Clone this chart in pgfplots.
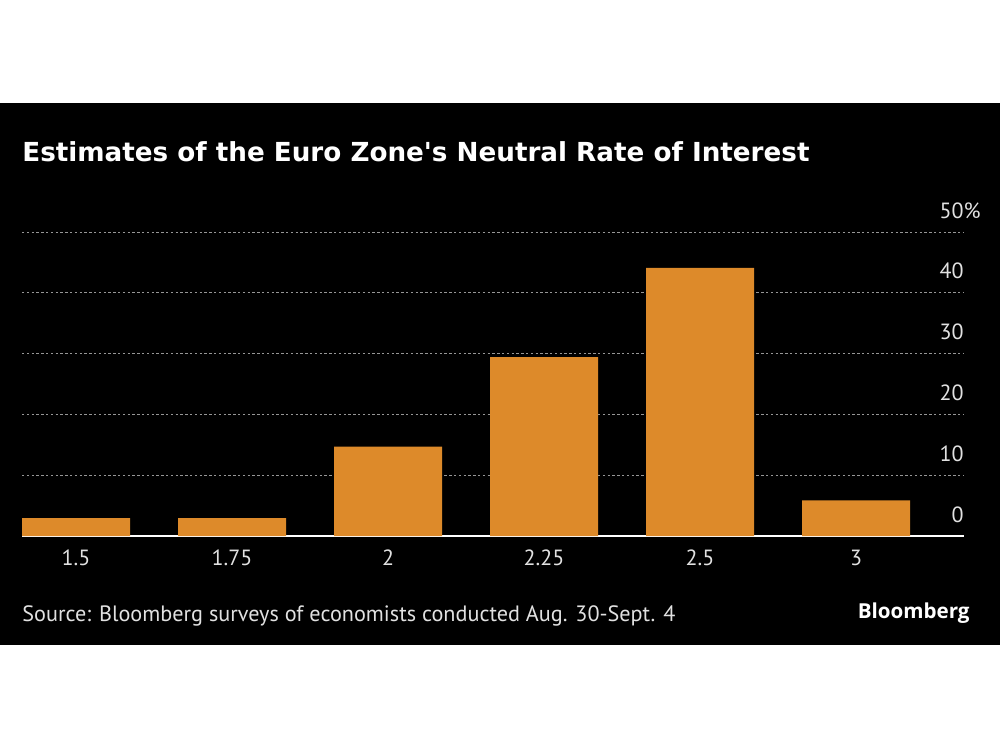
\documentclass[border=0pt]{standalone}
\usepackage{fontspec}
\setmainfont{PT Sans}
\newfontfamily\titlefont{DejaVu Sans}
\newfontfamily\logofont{Open Sans}
\usepackage{pgfplots}
\pgfplotsset{compat=1.18}
\definecolor{barorange}{RGB}{221,138,42}
\definecolor{ticktext}{RGB}{225,225,225}
\definecolor{gridgray}{RGB}{150,150,150}
\begin{document}
\begin{tikzpicture}
\useasboundingbox (0,0) rectangle (500pt,375pt);
\fill[white] (0,0) rectangle (500pt,375pt);
\fill[black] (0,52.5pt) rectangle (500pt,323.5pt);
\begin{axis}[
  at={(11pt,107pt)}, anchor=south west,
  width=471pt, height=152pt, scale only axis,
  xmin=-0.3462, xmax=5.692, ymin=0, ymax=50,
  axis x line*=bottom, axis y line*=right,
  x axis line style={white, line width=0.7pt},
  y axis line style={draw=none},
  xtick={0,1,2,3,4,5},
  xticklabels={1.5,1.75,2,2.25,2.5,3},
  ytick={0,10,20,30,40,50},
  yticklabels={0,10,20,30,40,50\rlap{\%}},
  major tick length=0pt,
  ymajorgrids,
  grid style={gridgray, line width=0.5pt, dash pattern=on 1.2pt off 1.2pt},
  tick label style={font=\fontsize{11}{13}\selectfont, text=ticktext},
  yticklabel style={anchor=base east, inner sep=0pt, yshift=7pt},
  xticklabel style={anchor=base, inner sep=0pt, yshift=-14.5pt},
  /pgf/number format/assume math mode=true,
]
\addplot[ybar, bar width=54pt, fill=barorange, draw=none] coordinates {
  (0,2.94) (1,2.94) (2,14.71) (3,29.41) (4,44.12) (5,5.88)
};
\end{axis}
\node[anchor=base west, inner sep=0pt, text=white, font=\titlefont\bfseries\fontsize{13.1}{15}\selectfont] at (11pt,294.2pt) {Estimates of the Euro Zone's Neutral Rate of Interest};
\node[anchor=base west, inner sep=0pt, text=ticktext, font=\fontsize{11.1}{13}\selectfont] at (11pt,64.5pt) {Source: Bloomberg surveys of economists conducted Aug. 30-Sept. 4};
\node[anchor=base east, inner sep=0pt, text=white, font=\logofont\bfseries\fontsize{10.3}{12}\selectfont] at (485pt,66pt) {Bloomberg};
\end{tikzpicture}
\end{document}
